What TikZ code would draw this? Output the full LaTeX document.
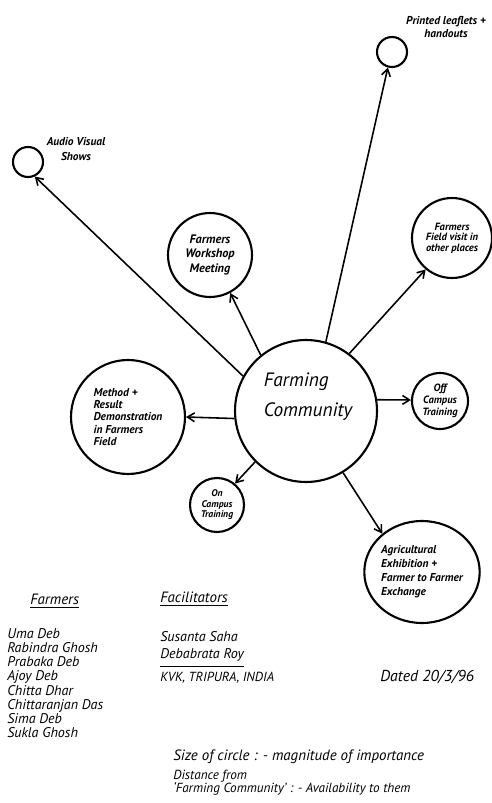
\documentclass[tikz,border=0pt]{standalone}
\usepackage{fontspec}
\setmainfont{PT Sans}
\usetikzlibrary{arrows.meta,shapes.geometric}

\tikzset{
  topic/.style={draw, circle, line width=1.2pt, inner sep=0pt, align=center},
  link/.style={line width=0.9pt, -{Straight Barb[length=4pt,width=5pt]}},
  note/.style={anchor=west, inner sep=0pt, font=\itshape\fontsize{8}{8}\selectfont},
}

\begin{document}
\begin{tikzpicture}[x=0.02cm, y=-0.02cm]
  \useasboundingbox (0,0) rectangle (492,803);

  % the community in the middle
  \node[topic, minimum size=2.84cm] (comm) at (306,411) {};
  \node[align=left, inner sep=0pt, font=\itshape\fontsize{11}{17}\selectfont]
    (commtext) at (308,397) {Farming\\Community};

  % small circles with their labels outside
  \node[topic, minimum size=0.6cm] (audio) at (28,162) {};
  \node[align=center, inner sep=0pt, font=\bfseries\itshape\fontsize{6.5}{8}\selectfont]
    (audiotext) at (76,149) {Audio Visual\\Shows};
  \node[topic, minimum size=0.6cm] (printed) at (392,52) {};
  \node[align=center, inner sep=0pt, font=\bfseries\itshape\fontsize{6.5}{7}\selectfont]
    (printedtext) at (446,27) {Printed leaflets +\\handouts};

  % circles with text inside
  \node[topic, minimum size=1.68cm, font=\bfseries\itshape\fontsize{7}{8}\selectfont]
    (workshop) at (210,255) {Farmers\\Workshop\\Meeting};
  \node[topic, minimum size=1.6cm, font=\bfseries\itshape\fontsize{6}{6}\selectfont]
    (field) at (452,238) {Farmers\\Field visit in\\other places};
  \node[topic, minimum size=2.28cm, align=left, font=\bfseries\itshape\fontsize{6.5}{7}\selectfont]
    (method) at (128,417) {Method +\\Result\\Demonstration\\in Farmers\\Field};
  \node[topic, minimum size=1.12cm, font=\bfseries\itshape\fontsize{6}{7}\selectfont]
    (offcamp) at (440,401) {Off\\Campus\\Training};
  \node[topic, minimum size=1.08cm, font=\bfseries\itshape\fontsize{5.5}{6}\selectfont]
    (oncamp) at (217,505) {On\\Campus\\Training};
  \node[topic, ellipse, minimum width=2.28cm, minimum height=2.04cm, align=left,
    font=\bfseries\itshape\fontsize{6.5}{8}\selectfont]
    (agri) at (422,572) {Agricultural\\Exhibition +\\Farmer to Farmer\\Exchange};

  % arrows out of the community
  \draw[link] (comm.151) -- (audio.-65);
  \draw[link] (comm.129) -- (workshop.-62);
  \draw[link] (comm.74) -- (printed.-105);
  \draw[link] (comm.53) -- (field.-130);
  \draw[link] (comm.9) -- (offcamp.178);
  \draw[link] (comm.186) -- (method.east);
  \draw[link] (comm.225) -- (oncamp.50);
  \draw[link] (comm.-59) -- (agri.136);

  % farmers
  \node[note, font=\itshape\fontsize{8.5}{8.5}\selectfont] (farmhead) at (30,601) {\underline{Farmers}};
  \node[note, align=left, font=\itshape\fontsize{8}{8.1}\selectfont] (farmers) at (7,683)
    {Uma Deb\\Rabindra Ghosh\\Prabaka Deb\\Ajoy Deb\\Chitta Dhar\\Chittaranjan Das\\Sima Deb\\Sukla Ghosh};

  % facilitators
  \node[note, font=\itshape\fontsize{8.5}{8.5}\selectfont] (facilhead) at (160,599) {\underline{Facilitators}};
  \node[note, font=\itshape\fontsize{8}{8}\selectfont] (susanta) at (160,637) {Susanta Saha};
  \node[note, font=\itshape\fontsize{8}{8}\selectfont] (debabrata) at (160,655) {Debabrata Roy};
  \draw[line width=0.6pt] ([yshift=-2.5pt]debabrata.south west) -- ([yshift=-2.5pt]debabrata.south east);
  \node[note, font=\itshape\fontsize{7.5}{7.5}\selectfont] (kvk) at (160,678) {KVK, TRIPURA, INDIA};
  \node[note, font=\itshape\fontsize{9}{9}\selectfont] (dated) at (380,677) {Dated 20/3/96};

  % key
  \node[note, font=\itshape\fontsize{8.5}{8.5}\selectfont] (sizekey) at (173,757)
    {Size of circle : - magnitude of importance};
  \node[note, font=\itshape\fontsize{7.5}{7.5}\selectfont] (distkey) at (173,776) {Distance from};
  \node[note, font=\itshape\fontsize{7.5}{7.5}\selectfont] (availkey) at (173,789)
    {`Farming Community' : - Availability to them};
\end{tikzpicture}
\end{document}
